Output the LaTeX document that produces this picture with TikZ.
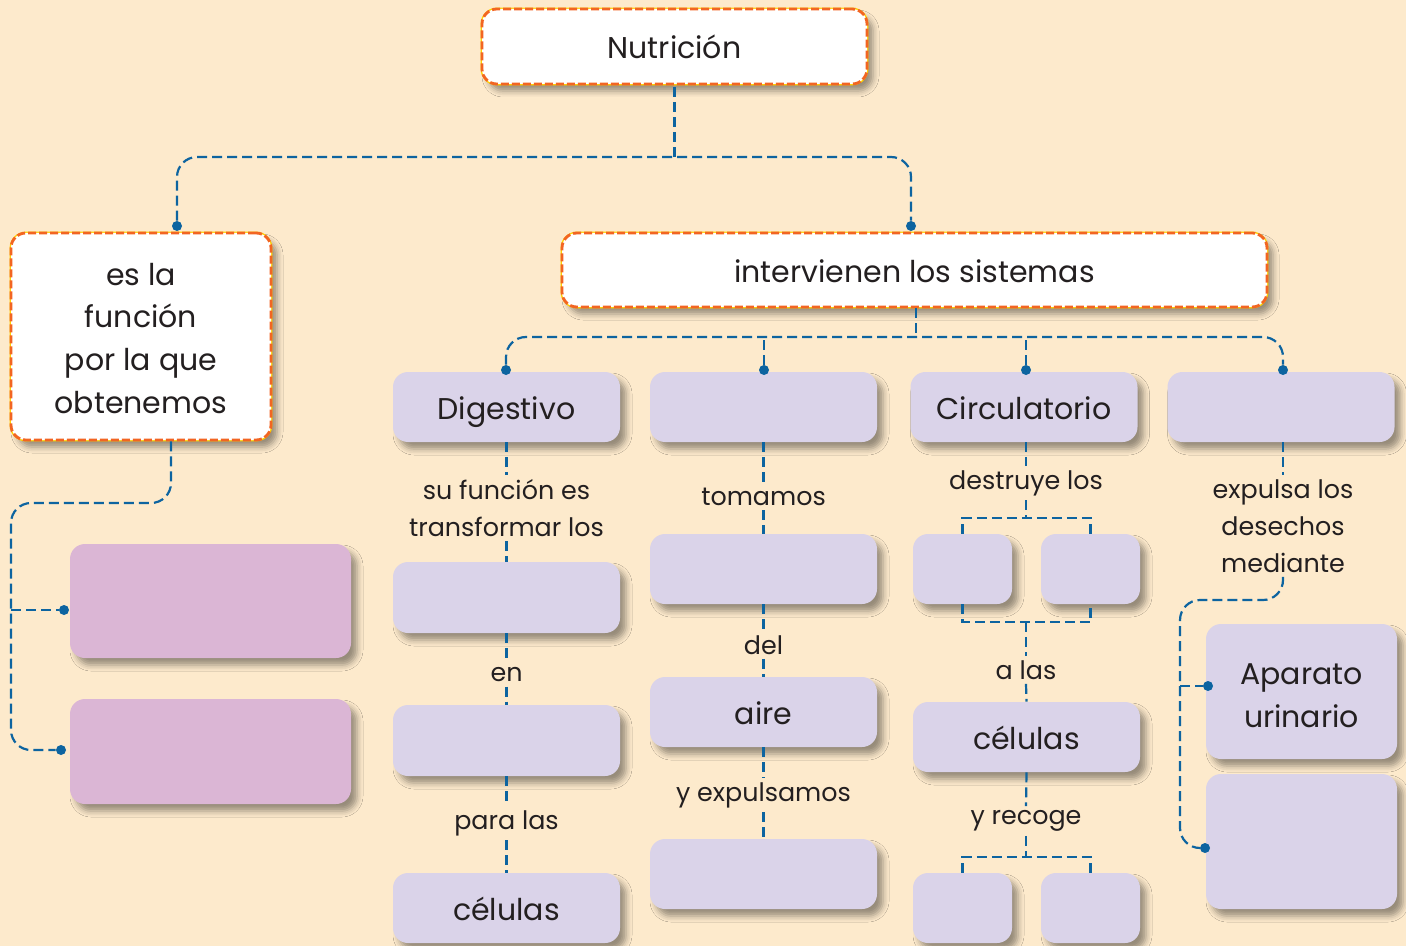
\documentclass[tikz,border=0pt]{standalone}
\usepackage{fontspec}
\setmainfont{Poppins}
\usetikzlibrary{shadows.blur}
\definecolor{colFondo}{HTML}{FDEACC}
\definecolor{colLila}{HTML}{DAD3E9}
\definecolor{colRosa}{HTML}{DBB6D5}
\definecolor{colAzul}{HTML}{0D64A0}
\definecolor{colNaranja}{HTML}{F26522}
\definecolor{colAmarillo}{HTML}{FFD200}
\definecolor{colTexto}{HTML}{231F20}
\tikzset{
	caja/.style={rounded corners=7.5pt, inner sep=2pt, align=center, text=colTexto,
		font=\fontsize{15}{21.4}\selectfont, text height=12.5pt, text depth=0pt,
		blur shadow={shadow xshift=3pt, shadow yshift=-3.5pt, shadow blur radius=3pt, shadow opacity=40}},
	blanca/.style={caja, fill=white, draw=colNaranja, line width=1.4pt, dash pattern=on 4pt off 1.5pt,
		preaction={draw=colAmarillo, solid, line width=1.4pt}},
	lila/.style={caja, fill=colLila},
	rosa/.style={caja, fill=colRosa},
	enlace/.style={draw=colAzul, line width=1.1pt, dash pattern=on 5pt off 2.5pt},
	punto/.style={circle, fill=colAzul, inner sep=0pt, minimum size=5pt},
	rotulo/.style={align=center, text=colTexto, font=\fontsize{12.7}{18.5}\selectfont, inner sep=2pt}
}
\begin{document}
\begin{tikzpicture}[x=0.5pt,y=-0.5pt]
	\useasboundingbox (0,0) rectangle (1406,946);
	\fill[colFondo] (0,0) rectangle (1406,946);
	
	\node[blanca, minimum width=192.5pt, minimum height=37.5pt] (nutri) at (674.5,46.5) {Nutrición};
	\node[blanca, minimum width=130pt, minimum height=103.5pt, text height=77pt] (funcion) at (141,336.5) {es la\\función\\por la que\\obtenemos};
	\node[blanca, minimum width=352.5pt, minimum height=37pt] (sistemas) at (914.5,270) {intervienen los sistemas};
	
	\node[rosa, minimum width=140.5pt, minimum height=57pt] (rosa1) at (210.5,601) {};
	\node[rosa, minimum width=140.5pt, minimum height=52.5pt] (rosa2) at (210.5,751.5) {};
	
	\node[lila, minimum width=113.5pt, minimum height=35pt] (digest) at (506.5,407) {Digestivo};
	\node[lila, minimum width=113.5pt, minimum height=35pt] (resp) at (763.5,407) {};
	\node[lila, minimum width=113.5pt, minimum height=35pt] (circ) at (1024,407) {Circulatorio};
	\node[lila, minimum width=113.5pt, minimum height=35pt] (excr) at (1281,407) {};
	
	\node[rotulo] (t1) at (506.5,508) {su función es\\transformar los};
	\node[lila, minimum width=113.5pt, minimum height=35.5pt] (dig1) at (506.5,597.5) {};
	\node[rotulo] (t2) at (506.5,675) {en};
	\node[lila, minimum width=113.5pt, minimum height=35.5pt] (dig2) at (506.5,740.5) {};
	\node[rotulo] (t3) at (506.5,823) {para las};
	\node[lila, minimum width=113.5pt, minimum height=35pt] (cel1) at (506.5,908) {células};
	
	\node[rotulo] (t4) at (763.5,497) {tomamos};
	\node[lila, minimum width=113.5pt, minimum height=35pt] (resp1) at (763.5,569) {};
	\node[rotulo] (t5) at (763.5,645) {del};
	\node[lila, minimum width=113.5pt, minimum height=35pt] (aire) at (763.5,712) {aire};
	\node[rotulo] (t6) at (763.5,795) {y expulsamos};
	\node[lila, minimum width=113.5pt, minimum height=35pt] (resp2) at (763.5,874) {};
	
	\node[rotulo] (t7) at (1026,483) {destruye los};
	\node[lila, minimum width=49.5pt, minimum height=35pt] (g1) at (962.5,569) {};
	\node[lila, minimum width=49.5pt, minimum height=35pt] (g2) at (1090.5,569) {};
	\node[rotulo] (t8) at (1026,670) {a las};
	\node[lila, minimum width=113.5pt, minimum height=35pt] (cel2) at (1026.5,737) {células};
	\node[rotulo] (t9) at (1026,821) {y recoge};
	\node[lila, minimum width=49.5pt, minimum height=35pt] (g3) at (962.5,908) {};
	\node[lila, minimum width=49.5pt, minimum height=35pt] (g4) at (1090.5,908) {};
	
	\node[rotulo] (t10) at (1283,526) {expulsa los\\desechos\\mediante};
	\node[lila, minimum width=95.5pt, minimum height=67.5pt, text height=35.5pt] (urin1) at (1301.5,691.5) {Aparato\\urinario};
	\node[lila, minimum width=95.5pt, minimum height=67.5pt] (urin2) at (1301.5,841.5) {};
	
	\node[punto] (pN1) at (177,226) {};
	\node[punto] (pN2) at (911,226) {};
	\node[punto] (pS1) at (506,370) {};
	\node[punto] (pS2) at (764,370) {};
	\node[punto] (pS3) at (1026,370) {};
	\node[punto] (pS4) at (1283,370) {};
	\node[punto] (pF1) at (64,610) {};
	\node[punto] (pF2) at (61,750) {};
	\node[punto] (pU1) at (1208,686) {};
	\node[punto] (pU2) at (1205,848) {};
	
	\coordinate (tronco) at (674,157);
	\coordinate (bus) at (916,337);
	\coordinate (codo1) at (11,503);
	\coordinate (codo2) at (1180,600);
	\coordinate (llave1) at (1026,518);
	\coordinate (llave2) at (1026,622);
	\coordinate (llave3) at (1026,857);
	
	\draw[enlace] (nutri.south |- tronco) -- (nutri.south);
	\draw[enlace, rounded corners=10pt] (pN1) |- (tronco) -| (pN2);
	
	\draw[enlace] (sistemas.south -| bus) -- (bus);
	\draw[enlace, rounded corners=10pt] (pS1) |- (bus) -| (pS4);
	\draw[enlace] (pS2) -- (pS2 |- bus);
	\draw[enlace] (pS3) -- (pS3 |- bus);
	
	\draw[enlace, rounded corners=10pt] ([xshift=15pt]funcion.south) |- (codo1) |- (pF2);
	\draw[enlace] (codo1 |- pF1) -- (pF1);
	
	\draw[enlace] (digest.south) -- (t1.north);
	\draw[enlace] (t1.south) -- (dig1.north);
	\draw[enlace] (dig1.south) -- (t2.north);
	\draw[enlace] (t2.south) -- (dig2.north);
	\draw[enlace] (dig2.south) -- (t3.north);
	\draw[enlace] (t3.south) -- (cel1.north);
	
	\draw[enlace] (resp.south) -- (t4.north);
	\draw[enlace] (t4.south) -- (resp1.north);
	\draw[enlace] (resp1.south) -- (t5.north);
	\draw[enlace] (t5.south) -- (aire.north);
	\draw[enlace] (aire.south) -- (t6.north);
	\draw[enlace] (t6.south) -- (resp2.north);
	
	\draw[enlace] (circ.south -| t7) -- (t7.north);
	\draw[enlace] (t7.south) -- (llave1);
	\draw[enlace] (g1.north) |- (llave1) -| (g2.north);
	\draw[enlace] (g1.south) |- (llave2) -| (g2.south);
	\draw[enlace] (llave2) -- (t8.north);
	\draw[enlace] (t8.south) -- (cel2.north);
	\draw[enlace] (cel2.south) -- (t9.north);
	\draw[enlace] (t9.south) -- (llave3);
	\draw[enlace] (g3.north) |- (llave3) -| (g4.north);
	
	\draw[enlace] (excr.south -| t10) -- (t10.north);
	\draw[enlace, rounded corners=10pt] (t10.south) |- (codo2) |- (pU2);
	\draw[enlace] (codo2 |- pU1) -- (pU1);
\end{tikzpicture}
\end{document}
